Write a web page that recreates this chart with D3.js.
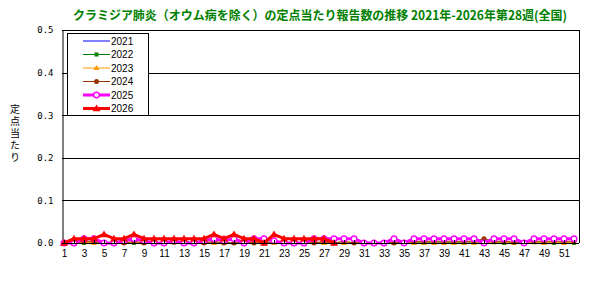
<!DOCTYPE html>
<html>
<head>
<meta charset="utf-8">
<script src="https://cdn.jsdelivr.net/npm/d3@7"></script>
<style>
  body { margin: 0; background: #fff; }
  svg text { font-family: "Liberation Sans", Arial, sans-serif; }
</style>
</head>
<body>
<div id="chart-area"></div>
<script>
// weeks and tick labels
let weeks = [1,2,3,4,5,6,7,8,9,10,11,12,13,14,15,16,17,18,19,20,21,22,23,24,25,26,
             27,28,29,30,31,32,33,34,35,36,37,38,39,40,41,42,43,44,45,46,47,48,49,50,51,52];
let weekLabels = [1,3,5,7,9,11,13,15,17,19,21,23,25,27,29,31,33,35,37,39,41,43,45,47,49,51];
let yTicks = [0, 0.1, 0.2, 0.3, 0.4, 0.5];

let years = ["2021", "2022", "2023", "2024", "2025", "2026"];

// per-sentinel values
let v2021 = [0,0,0,0,0,0,0,0,0,0,0,0,0.004,0,0,0,0,0,0,0,0,0,0,0,0,0,
             0,0,0,0,0,0,0,0,0,0.002,0,0,0,0,0,0,0,0,0,0,0,0,0,0,0,0];
let v2022 = [0,0,0,0,0,0,0,0,0,0,0,0.002,0,0,0,0,0,0,0,0,0,0,0,0,0,0,
             0.002,0,0,0.002,0,0,0,0,0,0,0.002,0,0,0.002,0,0,0,0.002,0,0,0,0.002,0,0,0,0];
let v2023 = [0,0.002,0.002,0,0,0,0,0.002,0,0,0,0.002,0,0,0,0,0,0,0,0.002,0,0,0,0,0,0.002,
             0,0,0,0.002,0,0,0,0,0.002,0,0,0,0,0,0,0,0,0.002,0.002,0,0,0.002,0,0.002,0,0.002];
let v2024 = [0,0,0.004,0.004,0,0,0,0.004,0,0,0,0.002,0,0,0,0.004,0,0,0,0,0,0.004,0,0,0,0,
             0.004,0,0.004,0,0,0,0,0,0.002,0.004,0.004,0.004,0.004,0.004,0.004,0.004,0.01,0.004,0.004,0.002,0.002,0.004,0.004,0.004,0.004,0.004];
let v2025 = [0,0,0.01,0.01,0,0,0.005,0.01,0.005,0,0,0.005,0,0,0.005,0.01,0.005,0.01,0,0.01,0.01,0.005,0,0,0,0.01,
             0.01,0.01,0.01,0.01,0,0,0,0.01,0,0.01,0.01,0.01,0.01,0.01,0.01,0.01,0,0.01,0.01,0.01,0,0.01,0.01,0.01,0.01,0.01];
let v2026 = [0,0.01,0.01,0.01,0.02,0.01,0.01,0.02,0.01,0.01,0.01,0.01,0.01,0.01,0.01,0.02,0.01,0.02,0.01,0.01,0,0.02,0.01,0.01,0.01,0.01,
             0.01,0];

let seriesValues = [v2021, v2022, v2023, v2024, v2025, v2026];

let colors = ["#0000ff", "#008000", "#ff9900", "#993300", "#ff00ff", "#ff0000"];
let widths = [1, 1, 1, 1, 3, 3];
let markers = ["none", "square", "triangle", "circle", "open", "triangle"];

let width = 602, height = 282;
let plotLeft = 62, plotRight = 579, plotTop = 30, plotBottom = 243;

let svg = d3.select("#chart-area").append("svg")
    .attr("width", width)
    .attr("height", height);

let x = d3.scaleLinear().domain([1, 52]).range([64, 574]);
let y = d3.scaleLinear().domain([0, 0.5]).range([plotBottom, plotTop]);

// title
svg.append("text")
    .attr("x", 73).attr("y", 20)
    .attr("textLength", 494)
    .attr("lengthAdjust", "spacingAndGlyphs")
    .style("font-family", "'Noto Sans CJK JP', sans-serif")
    .style("font-size", "12.5px")
    .style("font-weight", "bold")
    .attr("fill", "#008000")
    .text("クラミジア肺炎（オウム病を除く）の定点当たり報告数の推移 2021年-2026年第28週(全国)");

// y title, written vertically
svg.append("text")
    .attr("x", 15).attr("y", 104)
    .style("writing-mode", "vertical-rl")
    .style("text-orientation", "upright")
    .style("letter-spacing", "2px")
    .style("font-family", "'Noto Sans CJK JP', sans-serif")
    .style("font-size", "10px")
    .text("定点当たり");

// gridlines
svg.append("g").selectAll("line")
    .data(yTicks.slice(1))
    .enter().append("line")
    .attr("x1", plotLeft).attr("x2", plotRight)
    .attr("y1", d => Math.round(y(d)) + 0.5).attr("y2", d => Math.round(y(d)) + 0.5)
    .attr("stroke", "#000").attr("stroke-width", 1);

// right border
svg.append("line")
    .attr("x1", plotRight + 0.5).attr("x2", plotRight + 0.5)
    .attr("y1", plotTop).attr("y2", plotBottom)
    .attr("stroke", "#000");

// y axis
let yAxis = d3.axisLeft(y).tickValues(yTicks).tickSize(0).tickPadding(9)
    .tickFormat(d3.format(".1f"));
let yAxisGroup = svg.append("g")
    .attr("transform", "translate(" + (plotLeft + 0.5) + ",0)")
    .call(yAxis);
yAxisGroup.select(".domain").attr("stroke", "#000");
yAxisGroup.selectAll("text").attr("fill", "#000")
    .style("font-family", "'DejaVu Sans Mono', monospace").style("font-size", "9px");

// series
let line = d3.line().x((d, i) => x(weeks[i])).y(d => y(d));

seriesValues.forEach(function(vals, k) {
    let g = svg.append("g").attr("class", "series-" + years[k]);
    g.append("path")
        .datum(vals)
        .attr("fill", "none")
        .attr("stroke", colors[k])
        .attr("stroke-width", widths[k])
        .attr("stroke-linejoin", "round")
        .attr("d", line);
    drawMarkers(g, vals.map((v, i) => [x(weeks[i]), y(v)]), markers[k], colors[k], k >= 4);
});

function drawMarkers(g, pts, type, color, big) {
    if (type == "none") return;
    let sel = g.selectAll(".m").data(pts).enter();
    if (type == "square") {
        sel.append("rect")
            .attr("x", d => d[0] - 2).attr("y", d => d[1] - 2)
            .attr("width", 4).attr("height", 4)
            .attr("fill", color);
    } else if (type == "triangle") {
        let s = big ? 4 : 3;
        sel.append("path")
            .attr("d", d => "M" + d[0] + "," + (d[1] - s) + "L" + (d[0] + s) + "," + (d[1] + s * 0.7) +
                "L" + (d[0] - s) + "," + (d[1] + s * 0.7) + "Z")
            .attr("fill", color);
    } else if (type == "circle") {
        sel.append("circle")
            .attr("cx", d => d[0]).attr("cy", d => d[1]).attr("r", 2.5)
            .attr("fill", color);
    } else if (type == "open") {
        sel.append("circle")
            .attr("cx", d => d[0]).attr("cy", d => d[1]).attr("r", 2.8)
            .attr("fill", "#fff").attr("stroke", color).attr("stroke-width", 1.4);
    }
}

// x axis
let xAxis = d3.axisBottom(x).tickValues(weeks).tickSize(0).tickPadding(6)
    .tickFormat(d => weekLabels.indexOf(d) >= 0 ? d : "");
let xAxisGroup = svg.append("g")
    .attr("transform", "translate(0," + (plotBottom + 0.5) + ")")
    .call(xAxis);
xAxisGroup.select(".domain").attr("d", "M" + plotLeft + ",0H" + plotRight).attr("stroke", "#000");
xAxisGroup.selectAll("text").style("font-size", "10px").attr("fill", "#000");
// small inner ticks
svg.append("g").selectAll("line")
    .data(weeks)
    .enter().append("line")
    .attr("x1", d => Math.round(x(d)) + 0.5).attr("x2", d => Math.round(x(d)) + 0.5)
    .attr("y1", plotBottom - 3).attr("y2", plotBottom)
    .attr("stroke", "#000");

// legend
let legend = svg.append("g");
legend.append("rect")
    .attr("x", 67.5).attr("y", 33.5)
    .attr("width", 81).attr("height", 82)
    .attr("fill", "#fff").attr("stroke", "#000");

years.forEach(function(yr, k) {
    let ly = 41 + k * 13.5;
    let g = legend.append("g");
    g.append("line")
        .attr("x1", 83).attr("x2", 110)
        .attr("y1", ly).attr("y2", ly)
        .attr("stroke", colors[k]).attr("stroke-width", widths[k]);
    drawMarkers(g, [[96.5, ly]], markers[k], colors[k], k >= 4);
    g.append("text")
        .attr("x", 111).attr("y", ly + 3.5)
        .style("font-size", "10px")
        .text(yr);
});
</script>
</body>
</html>
